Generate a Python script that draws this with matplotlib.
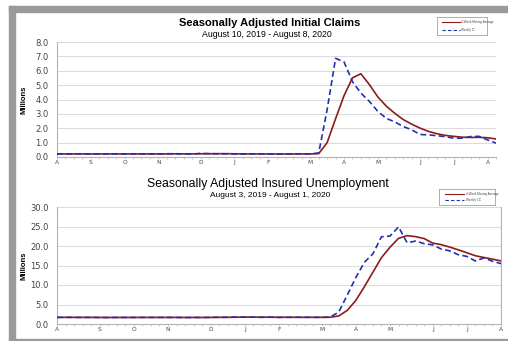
import matplotlib
matplotlib.use("Agg")
import matplotlib.pyplot as plt
from matplotlib.lines import Line2D
from matplotlib.patches import Rectangle

plt.rcParams["font.family"] = ["Liberation Sans", "DejaVu Sans"]

# ---- Initial claims, weeks ending Aug 10 2019 .. Aug 8 2020 (millions) ----
ic_weekly = [0.220, 0.211, 0.217, 0.219, 0.206, 0.210, 0.215, 0.220, 0.210, 0.215,
             0.213, 0.218, 0.211, 0.227, 0.228, 0.213, 0.203, 0.252, 0.234, 0.224,
             0.220, 0.212, 0.207, 0.223, 0.215, 0.201, 0.206, 0.211, 0.220, 0.217,
             0.211, 0.282, 3.307, 6.867, 6.615, 5.237, 4.442, 3.867, 3.176, 2.687,
             2.446, 2.123, 1.897, 1.566, 1.540, 1.482, 1.413, 1.310, 1.307, 1.422,
             1.435, 1.191, 0.963]
ic_avg = [0.214, 0.213, 0.215, 0.217, 0.213, 0.213, 0.213, 0.213, 0.214, 0.215,
          0.215, 0.214, 0.214, 0.217, 0.221, 0.220, 0.218, 0.224, 0.226, 0.228,
          0.233, 0.223, 0.216, 0.216, 0.214, 0.212, 0.211, 0.208, 0.210, 0.214,
          0.215, 0.233, 1.004, 2.667, 4.268, 5.507, 5.790, 5.040, 4.181, 3.543,
          3.044, 2.608, 2.288, 2.008, 1.782, 1.621, 1.500, 1.436, 1.378, 1.363,
          1.369, 1.339, 1.253]
ic_month_weeks = [0, 4, 8, 12, 17, 21, 25, 30, 34, 38, 43, 47, 51]

# ---- Insured unemployment, weeks ending Aug 3 2019 .. Aug 1 2020 (millions) ----
cc_weekly = [1.699, 1.726, 1.698, 1.676, 1.686, 1.670, 1.661, 1.682, 1.688, 1.682,
             1.689, 1.686, 1.690, 1.692, 1.684, 1.640, 1.693, 1.667, 1.722, 1.725,
             1.728, 1.806, 1.764, 1.747, 1.703, 1.751, 1.698, 1.726, 1.724, 1.723,
             1.700, 1.702, 1.784, 3.059, 7.446, 11.914, 15.819, 17.993, 22.377, 22.548,
             24.912, 20.838, 21.268, 20.606, 20.289, 19.231, 18.760, 17.760, 17.338, 16.151,
             16.951, 16.090, 15.486]
cc_avg = [1.690, 1.700, 1.700, 1.700, 1.697, 1.683, 1.673, 1.675, 1.675, 1.678,
          1.685, 1.686, 1.687, 1.689, 1.688, 1.677, 1.677, 1.671, 1.681, 1.702,
          1.711, 1.745, 1.756, 1.761, 1.755, 1.741, 1.725, 1.720, 1.725, 1.718,
          1.718, 1.712, 1.727, 2.061, 3.498, 6.051, 9.560, 13.293, 17.026, 19.684,
          21.958, 22.669, 22.392, 21.906, 20.750, 20.349, 19.722, 19.010, 18.272, 17.502,
          17.050, 16.633, 16.170]
cc_month_weeks = [0, 5, 9, 13, 18, 22, 26, 31, 35, 39, 44, 48, 52]

month_letters = ["A", "S", "O", "N", "D", "J", "F", "M", "A", "M", "J", "J", "A"]

RED = "#8c1c1c"
BLUE = "#2230b0"
GRID = "#dcdcdc"
SPINE = "#b4b4b4"
BORDER = "#9a9a9a"
TICKTXT = "#444444"

W, H = 508, 341
fig = plt.figure(figsize=(W / 100, H / 100), dpi=100)
fig.patch.set_facecolor("white")

# grey frame around the sheet (top, left, bottom)
fig.patches.append(Rectangle((9 / W, 0), 6 / W, 1 - 6 / H, transform=fig.transFigure,
                             color=BORDER, zorder=0))
fig.patches.append(Rectangle((9 / W, 1 - 12 / H), 1 - 9 / W, 6 / H, transform=fig.transFigure,
                             color=BORDER, zorder=0))
fig.patches.append(Rectangle((9 / W, 1 / H), 1 - 9 / W, 1.5 / H, transform=fig.transFigure,
                             color=BORDER, zorder=0))


def px_axes(x0, y0, x1, y1):
    return fig.add_axes([x0 / W, 1 - y1 / H, (x1 - x0) / W, (y1 - y0) / H])


def style(ax, ymax, ystep, month_weeks, right_spine, x0, x1):
    n = len(month_weeks)
    nt = int(round(ymax / ystep)) + 1
    ax.set_xlim(0, 52)
    ax.set_ylim(0, ymax)
    ax.set_yticks([i * ystep for i in range(nt)])
    ax.set_yticklabels([f"{i * ystep:.1f}" for i in range(nt)],
                       fontsize=6, family="DejaVu Sans", color=TICKTXT)
    ax.set_xticks(month_weeks)
    ax.set_xticklabels(month_letters[:n], fontsize=4.2, family="DejaVu Sans", color=TICKTXT)
    ax.set_xticks(range(0, 53), minor=True)
    ax.tick_params(axis="y", length=0, pad=6)
    ax.tick_params(axis="x", which="both", length=1.5, width=0.5, color=SPINE, pad=1)
    ax.grid(axis="y", color=GRID, linewidth=0.8)
    ax.set_axisbelow(True)
    ax.spines["top"].set_visible(False)
    ax.spines["right"].set_visible(right_spine)
    for s in ("left", "bottom", "right"):
        ax.spines[s].set_color(SPINE)
        ax.spines[s].set_linewidth(0.8)
    ax.set_ylabel("Millions", fontsize=5.5, fontweight="bold")
    ax.yaxis.set_label_coords((28 - x0) / (x1 - x0), 0.5)


def legend_box(x0, y0, x1, y1, weekly_label):
    lax = fig.add_axes([x0 / W, 1 - y1 / H, (x1 - x0) / W, (y1 - y0) / H])
    lax.set_xticks([])
    lax.set_yticks([])
    for s in lax.spines.values():
        s.set_color("#a0a0a0")
        s.set_linewidth(0.6)
    lax.set_xlim(0, 1)
    lax.set_ylim(0, 1)
    lax.add_line(Line2D([0.1, 0.45], [0.7, 0.7], color=RED, lw=0.8))
    lax.add_line(Line2D([0.1, 0.45], [0.3, 0.3], color=BLUE, lw=0.8, ls=(0, (3, 2))))
    lax.text(0.48, 0.7, "4-Week Moving Average", fontsize=2.2, va="center", color="#444444")
    lax.text(0.48, 0.3, weekly_label, fontsize=2.2, va="center", color="#444444")


weeks = list(range(53))

# ---- top chart ----
ax1 = px_axes(57, 42, 496, 157)
ax1.plot(weeks, ic_avg, color=RED, lw=1.2, zorder=3)
ax1.plot(weeks, ic_weekly, color=BLUE, lw=1.2, ls=(0, (3.5, 2)), zorder=4)
style(ax1, 8.0, 1.0, ic_month_weeks, False, 57, 496)
fig.text(270 / W, 1 - 23 / H, "Seasonally Adjusted Initial Claims",
         ha="center", va="center", fontsize=8, fontweight="bold")
fig.text(267 / W, 1 - 34.5 / H, "August 10, 2019 - August 8, 2020",
         ha="center", va="center", fontsize=6.3)
legend_box(437, 17, 487, 35, "Weekly IC")

# ---- bottom chart ----
ax2 = px_axes(57, 207, 501, 324)
ax2.plot(weeks, cc_avg, color=RED, lw=1.2, zorder=3)
ax2.plot(weeks, cc_weekly, color=BLUE, lw=1.2, ls=(0, (3.5, 2)), zorder=4)
style(ax2, 30.0, 5.0, cc_month_weeks, True, 57, 501)
fig.text(268 / W, 1 - 184.5 / H, "Seasonally Adjusted Insured Unemployment",
         ha="center", va="center", fontsize=8.8)
fig.text(270 / W, 1 - 195.5 / H, "August 3, 2019 - August 1, 2020",
         ha="center", va="center", fontsize=6.0)
legend_box(439, 189, 495, 205, "Weekly CC")

fig.savefig("out.png", dpi=100)
